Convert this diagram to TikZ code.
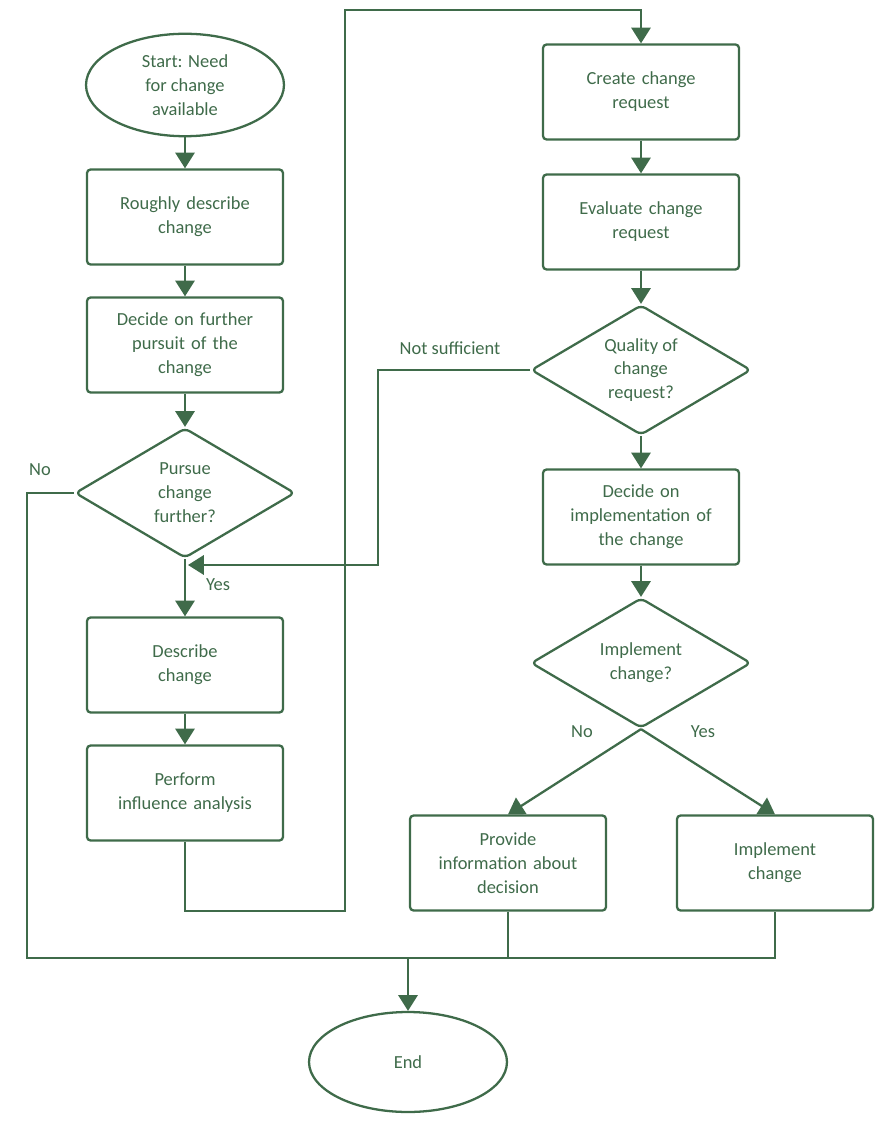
\documentclass[tikz,border=0pt]{standalone}
\usepackage{fontspec}
\setmainfont{Carlito}
\usetikzlibrary{shapes.geometric, arrows.meta}
\definecolor{flowgreen}{HTML}{3F6B4A}

\begin{document}
\begin{tikzpicture}[x=0.02cm, y=-0.02cm,
        every node/.style = {text=flowgreen, font=\fontsize{10.5}{13.6}\selectfont, align=center},
        box/.style = {draw=flowgreen, line width=1.3pt, rounded corners=2pt, minimum width=3.92cm, minimum height=1.9cm, text width=3.4cm},
        term/.style = {draw=flowgreen, line width=1.3pt, ellipse, minimum width=3.96cm, minimum height=2cm},
        dec/.style = {draw=flowgreen, line width=1.3pt, diamond, aspect=1.68, inner sep=0pt, minimum width=4.4cm, minimum height=2.6cm, rounded corners=3pt},
        line/.style = {draw=flowgreen, line width=1.3pt},
        arr/.style = {line, -{Triangle[length=9pt, width=11pt]}}
    ]
    \useasboundingbox (0,0) rectangle (886,1124);

    %linke Spalte
    \node (start)[term] at (185,85) {Start: Need\\for change\\available};
    \node (rough)[box] at (185,217) {Roughly describe\\change};
    \node (further)[box] at (185,345) {Decide on further\\pursuit of the\\change};
    \node (pursue)[dec] at (185,493) {Pursue\\change\\further?};
    \node (describe)[box] at (185,665) {Describe\\change};
    \node (perform)[box] at (185,793) {Perform\\influence analysis};

    %rechte Spalte
    \node (create)[box] at (641,92) {Create change\\request};
    \node (evaluate)[box] at (641,222) {Evaluate change\\request};
    \node (quality)[dec] at (641,370) {Quality of\\change\\request?};
    \node (implement)[box] at (641,517) {Decide on\\implementation of\\the change};
    \node (impl_q)[dec] at (641,663) {Implement\\change?};
    \node (inform)[box] at (508,863) {Provide\\information about\\decision};
    \node (do_impl)[box] at (775,863) {Implement\\change};

    \node (end)[term] at (408,1062) {End};

    %Hilfspunkte
    \coordinate (merge) at (408,958);
    \coordinate (back) at (188,565);

    %Pfeile
    \draw[arr] (start) -- (rough);
    \draw[arr] (rough) -- (further);
    \draw[arr] (further) -- (pursue);
    \draw[arr] (pursue) -- (describe) node[pos=0.45, right=8pt]{Yes};
    \draw[arr] (describe) -- (perform);
    \draw[arr] (perform.south) |- (345,911) -- (345,10) -| (create.north);
    \draw[arr] (create) -- (evaluate);
    \draw[arr] (evaluate) -- (quality);
    \draw[arr] (quality) -- (implement);
    \draw[arr] (implement) -- (impl_q);
    \draw[arr] (quality.west) -| (378,565) -- (back);
    \node (notsuff) at (450,348) {Not sufficient};
    \draw[arr] (impl_q.south) -- (inform.north);
    \draw[arr] (impl_q.south) -- (do_impl.north);
    \node (no_r) at (582,732) {No};
    \node (yes_r) at (703,732) {Yes};

    \draw[line] (pursue.west) -| (27,958) -| (do_impl.south);
    \node (no_l) at (40,470) {No};
    \draw[line] (inform.south) -- (508,958);
    \draw[arr] (merge) -- (end);
\end{tikzpicture}
\end{document}
